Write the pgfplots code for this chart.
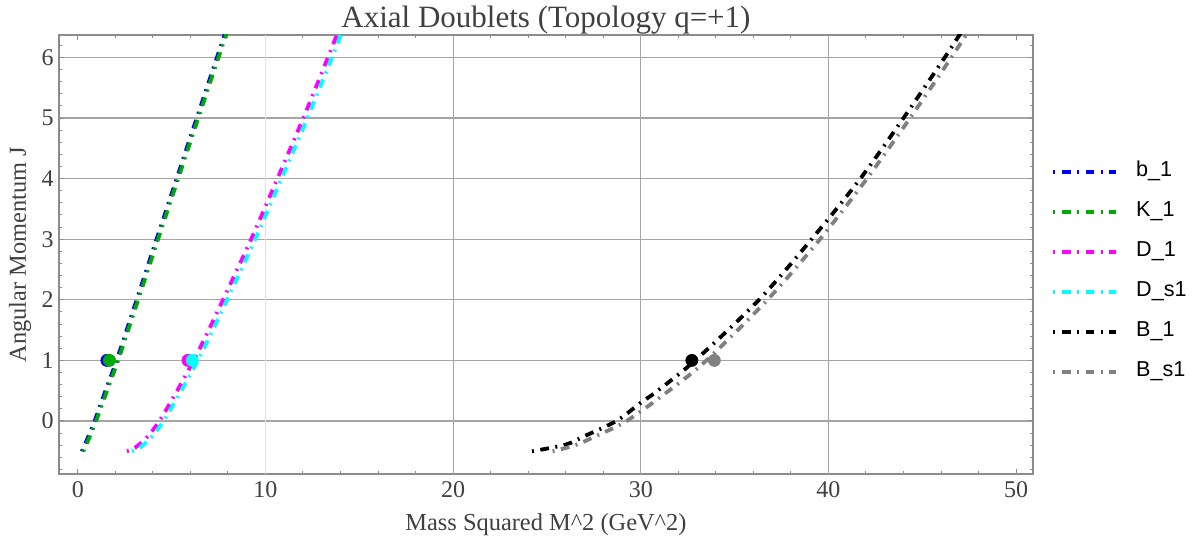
\documentclass[border=0pt]{standalone}
\usepackage{pgfplots}
\pgfplotsset{compat=1.18}
\usepackage{fontspec}
\setmainfont{Liberation Serif}
\newfontfamily\legfont{Liberation Sans}
\definecolor{cb}{RGB}{0,0,255}
\definecolor{cK}{RGB}{0,170,0}
\definecolor{cD}{RGB}{255,0,255}
\definecolor{cDs}{RGB}{0,255,255}
\definecolor{cB}{RGB}{0,0,0}
\definecolor{cBs}{RGB}{128,128,128}
\definecolor{framecol}{RGB}{140,140,140}
\definecolor{gridcol}{RGB}{165,165,165}
\definecolor{lightgrid}{RGB}{225,225,225}
\definecolor{labcol}{RGB}{64,64,64}
\tikzset{dd/.style={line width=1.9pt, dash pattern=on 1pt off 3.25pt on 4.4pt off 3.25pt}}
\begin{document}
\begin{tikzpicture}
\useasboundingbox (-29.5pt,-33pt) rectangle (567pt,237pt);
\begin{axis}[
  scale only axis, width=487pt, height=219.5pt,
  xmin=-1, xmax=50.9, ymin=-0.875, ymax=6.37,
  xtick={0,10,...,50}, ytick={0,1,...,6},
  minor xtick={0,2,...,50}, minor ytick={-0.8,-0.6,...,6.2},
  major tick length=2.5pt, minor tick length=1.5pt,
  tick style={framecol, line width=0.5pt},
  axis line style={framecol, line width=0.6pt},
  ymajorgrids,
  grid style={gridcol, line width=0.6pt},
  /pgf/number format/assume math mode=true,
  tick label style={font=\fontsize{12}{14}\selectfont, text=labcol},
  yticklabel style={inner xsep=2.5pt},
  title={Axial Doublets (Topology q=+1)},
  title style={at={(axis description cs:0.5,1.0175)}, anchor=base, yshift=-6pt, font=\fontsize{15.5}{18}\selectfont, text=labcol},
  xlabel={Mass Squared M\textasciicircum 2 (GeV\textasciicircum 2)},
  xlabel style={at={(axis description cs:0.5,-0.1276)}, anchor=base, font=\fontsize{12.2}{14}\selectfont, text=labcol},
  ylabel={Angular Momentum J},
  ylabel style={at={(axis description cs:-0.0339,0.5)}, anchor=base, font=\fontsize{12.2}{14}\selectfont, text=labcol},
  legend style={at={(axis description cs:1.0185,0.4608)}, anchor=west, draw=none, fill=none,
    font=\legfont\fontsize{10.8}{12}\selectfont, row sep=10pt, column sep=9pt, inner sep=0pt,
    nodes={inner sep=0pt, text height=7.5pt, text depth=2.5pt}},
  legend cell align=left,
  legend image code/.code={\draw[#1] (0pt,0pt) -- (31.5pt,0pt);},
]
\draw[lightgrid, line width=0.5pt] (axis cs:10,-0.875) -- (axis cs:10,6.37);
\draw[gridcol, line width=0.6pt] (axis cs:20,-0.875) -- (axis cs:20,6.37);
\draw[gridcol, line width=0.6pt] (axis cs:30,-0.875) -- (axis cs:30,6.37);
\draw[gridcol, line width=0.6pt] (axis cs:40,-0.875) -- (axis cs:40,6.37);

\addplot[cb, dd, smooth] coordinates {(0.22,-0.5) (0.49,-0.31) (0.9,0) (1.48,0.5) (2.07,1) (3.14,2) (4.2,3) (5.27,4) (6.34,5) (7.42,6) (7.96,6.5)};
\addlegendentry{b\_1}
\addplot[cK, dd, smooth] coordinates {(0.30,-0.5) (0.57,-0.31) (0.98,0) (1.56,0.5) (2.15,1) (3.22,2) (4.28,3) (5.35,4) (6.42,5) (7.5,6) (8.04,6.5)};
\addlegendentry{K\_1}
\addplot[cD, dd, smooth] coordinates {(2.62,-0.5) (3.06,-0.44) (3.68,-0.27) (4.35,0) (5.3,0.5) (6.18,1) (6.98,1.5) (7.74,2) (9.24,3) (10.64,4) (12.02,5) (13.33,6) (13.97,6.5)};
\addlegendentry{D\_1}
\addplot[cDs, dd, smooth] coordinates {(2.89,-0.5) (3.31,-0.44) (3.92,-0.27) (4.58,0) (5.52,0.5) (6.40,1) (7.2,1.5) (7.96,2) (9.46,3) (10.86,4) (12.24,5) (13.55,6) (14.19,6.5)};
\addlegendentry{D\_s1}
\addplot[cB, dd, smooth] coordinates {(24.2,-0.5) (26.0,-0.39) (27.0,-0.25) (28.7,0) (30.0,0.3) (30.9,0.5) (32.9,1) (36.3,2) (39.1,3) (41.7,4) (44.0,5) (46.2,6) (47.25,6.5)};
\addlegendentry{B\_1}
\addplot[cBs, dd, smooth] coordinates {(25.3,-0.5) (26.5,-0.4) (27.6,-0.25) (29.25,0) (31.5,0.5) (33.5,1) (36.75,2) (39.55,3) (42.05,4) (44.35,5) (46.55,6) (47.6,6.5)};
\addlegendentry{B\_s1}

\addplot[only marks, mark=*, mark size=3pt, cb, forget plot] coordinates {(1.55,1)};
\addplot[only marks, mark=*, mark size=3pt, cK, forget plot] coordinates {(1.69,1)};
\addplot[only marks, mark=*, mark size=3pt, cD, forget plot] coordinates {(5.87,1)};
\addplot[only marks, mark=*, mark size=3pt, cDs, forget plot] coordinates {(6.1,1)};
\addplot[only marks, mark=*, mark size=3pt, cB, forget plot] coordinates {(32.72,1)};
\addplot[only marks, mark=*, mark size=3pt, cBs, forget plot] coordinates {(33.92,1)};
\end{axis}
\end{tikzpicture}
\end{document}
